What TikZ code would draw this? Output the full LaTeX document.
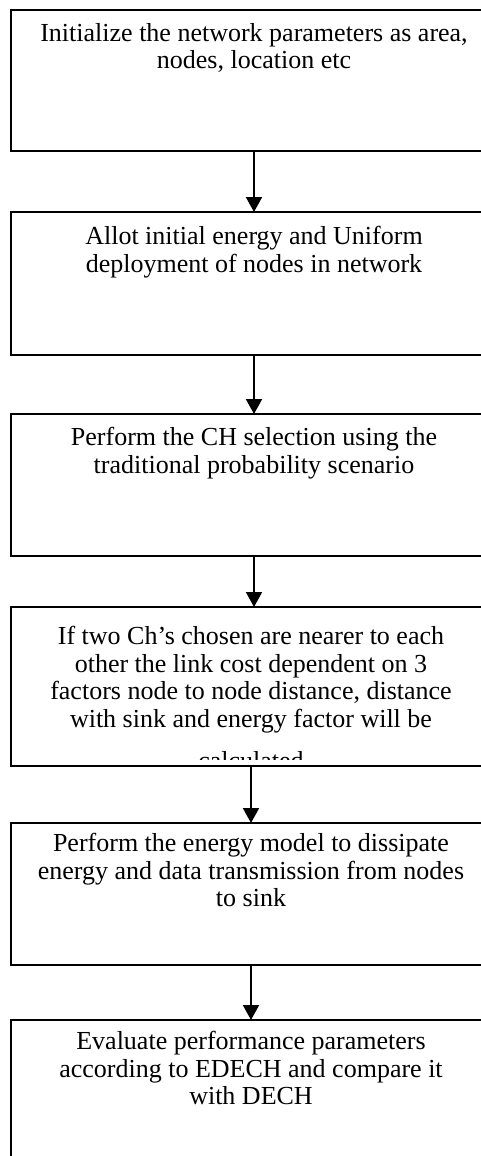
\documentclass[tikz,border=0pt]{standalone}
\usepackage{fontspec}
\setmainfont{Liberation Serif}
\usetikzlibrary{arrows.meta,positioning}
\tikzset{
    >={Triangle[length=15pt,width=16pt]},
    trin/.style={
           rectangle,
           draw=black, line width=1.8pt,
           minimum width=486pt,
           minimum height=142pt,
           outer sep=0pt,
           inner sep=0pt},
    tekst/.style={
           align=center,
           inner sep=0pt,
           font=\fontsize{26}{27.5}\selectfont},
    pil/.style={
           ->,
           line width=2pt}
}
\begin{document}
\begin{tikzpicture}[x=1pt, y=1pt, node distance=13pt]
        \clip (0,0) rectangle (481,-1156);
        \node[trin, anchor=north, minimum height=141pt] (b1) at (254,-10) {};
        \node[trin, below=61pt of b1, minimum height=143pt] (b2) {};
        \node[trin, below=59pt of b2] (b3) {};
        \node[trin, below=51pt of b3, xshift=-3pt, minimum width=480pt, minimum height=159pt] (b4) {};
        \node[trin, below=57pt of b4, minimum width=480pt] (b5) {};
        \node[trin, below=55pt of b5, minimum width=480pt, minimum height=220pt] (b6) {};

        \node[tekst, below=of b1.north] (t1) {Initialize the network parameters as area,\\ nodes, location etc};
        \node[tekst, below=14pt of b2.north] (t2) {Allot initial energy and Uniform\\ deployment of nodes in network};
        \node[tekst, below=of b3.north] (t3) {Perform the CH selection using the\\ traditional probability scenario};
        \begin{scope}
            \clip (b4.north west) rectangle ([yshift=-152pt]b4.north east);
            \node[tekst, below=19pt of b4.north] (t4) {If two Ch’s chosen are nearer to each\\ other the link cost dependent on 3\\ factors node to node distance, distance\\ with sink and energy factor will be\\[15pt] calculated};
        \end{scope}
        \node[tekst, below=10pt of b5.north] (t5) {Perform the energy model to dissipate\\ energy and data transmission from nodes\\ to sink};
        \node[tekst, below=11pt of b6.north] (t6) {Evaluate performance parameters\\ according to EDECH and compare it\\ with DECH};

        \draw[pil] (b1.south) -- (b2.north);
        \draw[pil] (b2.south) -- (b3.north);
        \draw[pil] (b3.south) -- (b3.south |- b4.north);
        \draw[pil] (b4.south) -- (b5.north);
        \draw[pil] (b5.south) -- (b6.north);
\end{tikzpicture}
\end{document}
